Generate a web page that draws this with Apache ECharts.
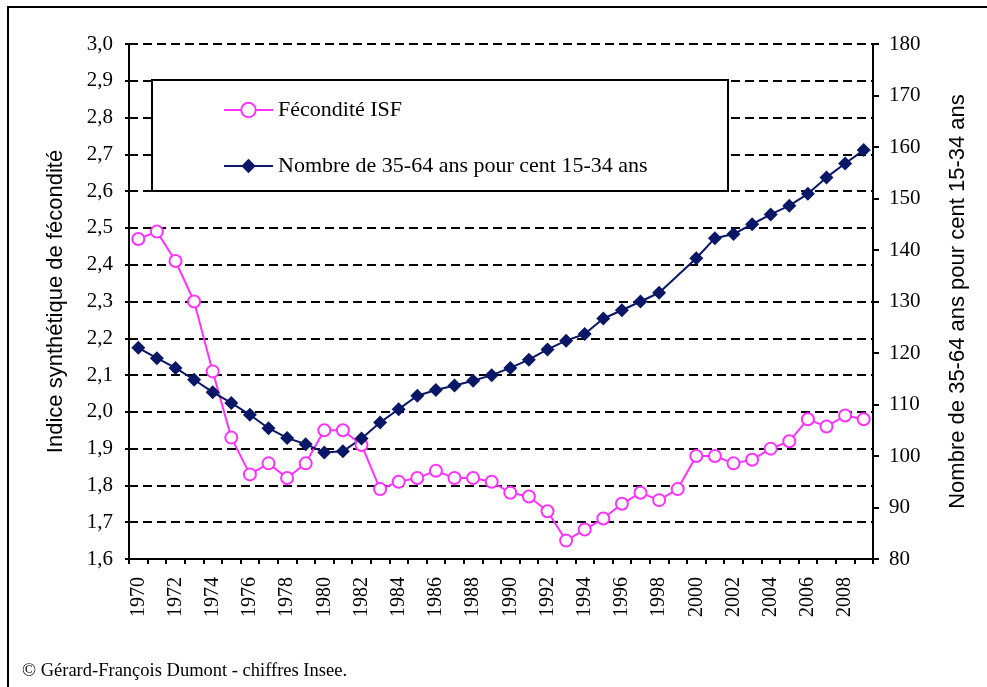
<!DOCTYPE html>
<html>
<head>
<meta charset="utf-8">
<script src="https://cdn.jsdelivr.net/npm/echarts@6/dist/echarts.min.js"></script>
<style>
  html, body { margin: 0; padding: 0; background: #fff; }
  #chart { width: 987px; height: 687px; }
</style>
</head>
<body>
<div id="chart"></div>
<script>
// ── données ──────────────────────────────────────────────
const YEARS = ['1970','1971','1972','1973','1974','1975','1976','1977','1978','1979',
               '1980','1981','1982','1983','1984','1985','1986','1987','1988','1989',
               '1990','1991','1992','1993','1994','1995','1996','1997','1998','1999',
               '2000','2001','2002','2003','2004','2005','2006','2007','2008','2009']

// indice synthétique de fécondité (axe gauche)
const ISF = [2.47, 2.49, 2.41, 2.30, 2.11, 1.93, 1.83, 1.86, 1.82, 1.86,
             1.95, 1.95, 1.91, 1.79, 1.81, 1.82, 1.84, 1.82, 1.82, 1.81,
             1.78, 1.77, 1.73, 1.65, 1.68, 1.71, 1.75, 1.78, 1.76, 1.79,
             1.88, 1.88, 1.86, 1.87, 1.90, 1.92, 1.98, 1.96, 1.99, 1.98]

// nombre de 35-64 ans pour cent 15-34 ans (axe droit), 1999 absent
const RATIO = [121.0, 119.0, 117.1, 114.8, 112.4, 110.3, 108.0, 105.4, 103.5, 102.3,
               100.7, 100.9, 103.4, 106.5, 109.1, 111.7, 112.8, 113.7, 114.6, 115.7,
               117.1, 118.7, 120.7, 122.4, 123.7, 126.7, 128.3, 130.0, 131.7, null,
               138.4, 142.3, 143.1, 145.0, 146.9, 148.6, 150.9, 154.1, 156.8, 159.4]

const NAME_ISF   = 'Fécondité ISF'
const NAME_RATIO = 'Nombre de 35-64 ans pour cent 15-34 ans'

const PINK = '#ff33ff'
const NAVY = '#0a1766'
const SERIF = 'Liberation Serif'
const SANS  = 'Liberation Sans'

const chart = echarts.init(document.getElementById('chart'), null, { renderer: 'canvas' })

chart.setOption({
  animation: false,
  backgroundColor: '#fff',
  grid: { left: 129, right: 114, top: 44, bottom: 128 },
  graphic: [
    {
      type: 'rect', z: 0,
      shape: { x: 8, y: 7, width: 990, height: 690 },
      style: { fill: 'none', stroke: '#000', lineWidth: 2 },
    },
    // cadre de la légende
    {
      type: 'rect', z: 3,
      shape: { x: 152, y: 80, width: 576, height: 111 },
      style: { fill: '#fff', stroke: '#000', lineWidth: 2 },
    },
    {
      type: 'text', left: 22, top: 662, z: 3,
      style: { text: '© Gérard-François Dumont - chiffres Insee.', font: '18.5px "Liberation Serif"', fill: '#000' },
    },
  ],
  legend: {
    orient: 'vertical',
    left: 223, top: 99,
    z: 5,
    itemWidth: 49, itemHeight: 18,
    itemGap: 34,
    padding: 0,
    textStyle: { fontFamily: SERIF, fontSize: 22, color: '#000' },
    data: [NAME_ISF, NAME_RATIO],
  },
  xAxis: {
    type: 'category',
    data: YEARS,
    boundaryGap: true,
    axisLine: { lineStyle: { color: '#000', width: 2 } },
    axisTick: { show: true, interval: 0, length: 5, lineStyle: { color: '#000', width: 2 } },
    axisLabel: {
      interval: 1, rotate: 90, margin: 18,
      fontFamily: SERIF, fontSize: 20, color: '#000',
    },
    splitLine: { show: false },
  },
  yAxis: [
    {
      type: 'value',
      min: 1.6, max: 3.0, interval: 0.1,
      name: 'Indice synthétique de fécondité',
      nameLocation: 'middle', nameGap: 62,
      nameTextStyle: { fontFamily: SANS, fontSize: 22, color: '#000' },
      axisLine: { show: true, lineStyle: { color: '#000', width: 2 } },
      axisTick: { show: true, length: 4, lineStyle: { color: '#000', width: 2 } },
      axisLabel: {
        margin: 16, fontFamily: SERIF, fontSize: 21, color: '#000',
        formatter: v => v.toFixed(1).replace('.', ','),
      },
      splitLine: { show: true, lineStyle: { color: '#000', width: 2, type: [9, 5] } },
    },
    {
      type: 'value',
      position: 'right',
      min: 80, max: 180, interval: 10,
      name: 'Nombre de 35-64 ans pour cent 15-34 ans',
      nameLocation: 'middle', nameGap: 74, nameRotate: 90,
      nameTextStyle: { fontFamily: SANS, fontSize: 22, color: '#000' },
      axisLine: { show: true, lineStyle: { color: '#000', width: 2 } },
      axisTick: { show: true, length: 6, lineStyle: { color: '#000', width: 2 } },
      axisLabel: { margin: 16, fontFamily: SERIF, fontSize: 21, color: '#000' },
      splitLine: { show: false },
    },
  ],
  series: [
    {
      name: NAME_ISF,
      type: 'line',
      yAxisIndex: 0,
      data: ISF,
      showAllSymbol: true,
      symbol: 'emptyCircle',
      symbolSize: 12,
      lineStyle: { color: PINK, width: 2 },
      itemStyle: { color: PINK, borderColor: PINK, borderWidth: 2 },
    },
    {
      name: NAME_RATIO,
      type: 'line',
      yAxisIndex: 1,
      data: RATIO,
      connectNulls: true,
      showAllSymbol: true,
      symbol: 'diamond',
      symbolSize: 14,
      lineStyle: { color: NAVY, width: 2 },
      itemStyle: { color: NAVY },
    },
  ],
})
</script>
</body>
</html>
